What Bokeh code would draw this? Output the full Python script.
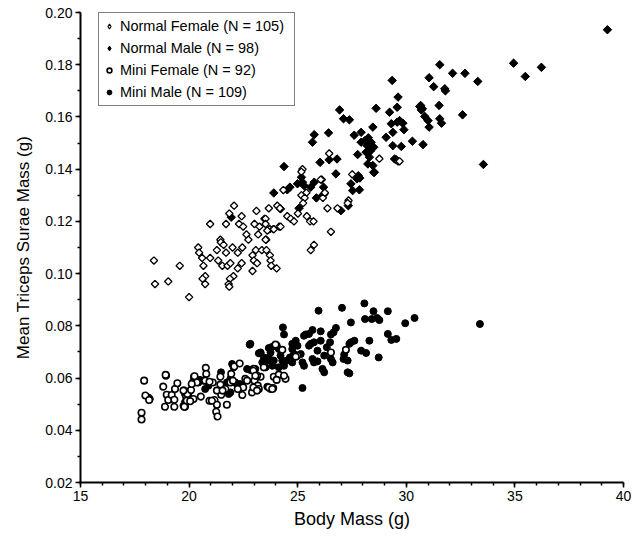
from bokeh.plotting import figure
from bokeh.models import Legend, LegendItem, SingleIntervalTicker, NumeralTickFormatter
from bokeh.embed import file_html
from bokeh.resources import INLINE

# ---------------- data ----------------
nf_x = [18.38, 18.43, 19.04, 19.57, 20.00, 20.97, 20.42, 20.46, 20.60, 20.66,
        20.74, 20.62, 20.74, 20.97, 21.28, 21.44, 21.46, 21.59, 21.70, 21.70,
        21.85, 22.07, 21.34, 21.53, 21.77, 21.90, 22.00, 22.24, 22.42, 22.24,
        22.04, 21.88, 21.82, 21.85, 22.42, 22.30, 22.49, 22.64, 22.73, 22.45,
        23.10, 23.01, 23.24, 23.47, 23.18, 23.55, 23.72, 23.88, 24.06, 23.67,
        23.07, 23.35, 23.56, 23.72, 23.75, 23.78, 24.03, 22.92, 22.98, 23.13,
        22.92, 24.15, 26.45, 25.22, 25.17, 26.11, 27.51, 24.34, 25.40, 25.17,
        25.32, 25.25, 26.16, 26.25, 24.18, 25.01, 24.52, 24.68, 24.83, 25.42,
        25.57, 25.73, 24.21, 26.37, 26.83, 27.34, 28.76, 29.62, 26.53, 25.75,
        25.60, 23.52, 23.60, 23.52, 23.90, 27.30, 29.69, 26.06, 23.52]
nf_y = [0.105, 0.096, 0.097, 0.103, 0.091, 0.119, 0.110, 0.108, 0.106, 0.103,
        0.099, 0.098, 0.096, 0.106, 0.109, 0.113, 0.112, 0.111, 0.108, 0.119,
        0.123, 0.126, 0.105, 0.103, 0.103, 0.104, 0.110, 0.108, 0.104, 0.102,
        0.099, 0.098, 0.096, 0.095, 0.122, 0.119, 0.118, 0.115, 0.113, 0.110,
        0.124, 0.119, 0.118, 0.121, 0.115, 0.113, 0.117, 0.117, 0.126, 0.125,
        0.109, 0.109, 0.109, 0.107, 0.105, 0.103, 0.102, 0.107, 0.105, 0.104,
        0.101, 0.118, 0.146, 0.140, 0.139, 0.136, 0.138, 0.132, 0.131, 0.130,
        0.129, 0.127, 0.129, 0.131, 0.125, 0.123, 0.122, 0.121, 0.120, 0.122,
        0.120, 0.120, 0.118, 0.125, 0.125, 0.128, 0.144, 0.143, 0.116, 0.111,
        0.109, 0.121, 0.1165, 0.113, 0.117, 0.127, 0.143, 0.136, 0.119]

nm_x = [39.26, 31.54, 32.13, 32.70, 33.29, 34.94, 35.48, 36.22, 29.35, 31.05,
        31.26, 31.77, 31.80, 29.62, 26.93, 27.11, 27.38, 28.61, 29.23, 29.58,
        30.66, 30.74, 31.51, 32.59, 30.85, 31.00, 31.54, 31.62, 31.05, 29.31,
        29.69, 29.89, 28.46, 27.92, 29.38, 25.76, 26.42, 25.68, 28.25, 27.92,
        28.38, 28.50, 29.07, 29.38, 29.77, 30.28, 30.77, 27.76, 28.15, 28.30,
        28.23, 28.46, 29.46, 33.55, 26.03, 26.45, 26.81, 26.76, 24.37, 25.17,
        27.79, 28.50, 29.54, 28.53, 25.22, 24.99, 25.29, 25.76, 25.60, 24.64,
        24.52, 23.90, 26.19, 26.22, 26.14, 25.86, 27.45, 27.53, 27.84, 27.33,
        26.99, 25.06, 24.21, 21.94, 27.73, 27.86, 30.62, 30.69, 29.58, 29.84,
        28.20, 28.35, 28.10, 27.60]
nm_y = [0.1934, 0.1800, 0.1767, 0.1767, 0.1736, 0.1806, 0.1755, 0.1790, 0.1740, 0.1750,
        0.1716, 0.1708, 0.1700, 0.1676, 0.1627, 0.1593, 0.1589, 0.1633, 0.1618, 0.1637,
        0.1644, 0.1631, 0.1644, 0.1608, 0.1602, 0.1586, 0.1593, 0.1576, 0.1561, 0.1574,
        0.1586, 0.1551, 0.1561, 0.1541, 0.1541, 0.1532, 0.1539, 0.1503, 0.1520, 0.1503,
        0.1503, 0.1484, 0.1522, 0.1490, 0.1487, 0.1507, 0.1494, 0.1456, 0.1465, 0.1446,
        0.1420, 0.1414, 0.1439, 0.1418, 0.1426, 0.1436, 0.1439, 0.1382, 0.1410, 0.1369,
        0.1375, 0.1388, 0.1436, 0.1388, 0.1350, 0.1344, 0.1337, 0.1350, 0.1331, 0.1331,
        0.1321, 0.1309, 0.1331, 0.1305, 0.1299, 0.1290, 0.1344, 0.1318, 0.1321, 0.1260,
        0.1241, 0.1250, 0.1248, 0.1216, 0.1363, 0.1366, 0.1640, 0.1627, 0.1580, 0.1576,
        0.1490, 0.1470, 0.1510, 0.1530]

mf_x = [17.81, 17.81, 17.93, 17.99, 18.81, 18.94, 18.97, 19.04, 19.20, 18.89,
        19.32, 19.32, 19.35, 19.46, 19.77, 19.86, 19.81, 19.92, 20.09, 20.20,
        20.23, 20.36, 20.54, 20.77, 20.79, 20.74, 20.94, 21.09, 21.17, 21.28,
        21.25, 21.31, 21.44, 21.48, 21.67, 21.74, 21.90, 21.94, 22.08, 22.33,
        22.49, 22.45, 22.59, 22.90, 22.98, 23.01, 23.16, 23.21, 23.29, 23.87,
        23.90, 24.13, 24.03, 18.92, 19.74, 19.89, 19.78, 20.05, 20.12, 20.25,
        20.94, 21.05, 21.28, 21.44, 21.54, 22.02, 22.24, 22.67, 23.13, 23.44,
        24.99, 27.22, 26.53, 24.91, 23.98, 24.29, 24.03, 24.44, 24.37, 23.67,
        23.83, 18.16, 22.96, 23.05, 22.96, 23.13]
mf_y = [0.0467, 0.0441, 0.0590, 0.0533, 0.0567, 0.0609, 0.0536, 0.0516, 0.0535, 0.0490,
        0.0490, 0.0517, 0.0558, 0.0580, 0.0552, 0.0529, 0.0490, 0.0539, 0.0554, 0.0520,
        0.0605, 0.0583, 0.0529, 0.0639, 0.0616, 0.0590, 0.0513, 0.0583, 0.0516, 0.0498,
        0.0471, 0.0453, 0.0605, 0.0536, 0.0558, 0.0498, 0.0583, 0.0616, 0.0644, 0.0656,
        0.0564, 0.0535, 0.0597, 0.0545, 0.0635, 0.0590, 0.0571, 0.0558, 0.0605, 0.0562,
        0.0605, 0.0613, 0.0724, 0.0612, 0.0552, 0.0513, 0.0490, 0.0511, 0.0577, 0.0607,
        0.0586, 0.0513, 0.0552, 0.0575, 0.0552, 0.0590, 0.0558, 0.0590, 0.0609, 0.0641,
        0.0686, 0.0708, 0.0698, 0.0682, 0.0728, 0.0708, 0.0593, 0.0597, 0.0609, 0.0564,
        0.0558, 0.0516, 0.0628, 0.0609, 0.0564, 0.0552]

mm_x = [25.96, 27.04, 28.07, 28.49, 29.15, 28.41, 28.66, 28.76, 28.10, 27.45,
        30.38, 29.95, 33.39, 24.32, 24.37, 25.68, 25.37, 25.29, 25.52, 26.06,
        26.76, 26.65, 26.53, 26.06, 25.75, 25.60, 25.52, 24.91, 24.75, 24.99,
        26.49, 26.34, 27.45, 27.38, 27.61, 28.30, 29.15, 29.31, 29.54, 27.92,
        28.15, 28.73, 27.14, 27.11, 27.30, 27.30, 27.38, 26.14, 26.22, 26.53,
        26.61, 25.68, 25.75, 25.91, 25.14, 25.22, 25.29, 24.75, 24.83, 24.64,
        24.52, 24.75, 24.21, 24.29, 24.37, 24.13, 23.75, 23.67, 23.60, 23.90,
        23.83, 23.29, 23.44, 23.37, 23.52, 22.82, 25.22, 22.79, 23.67, 23.83,
        24.13, 23.29, 21.98, 22.05, 22.67, 22.82, 21.47, 21.74, 21.90, 22.13,
        20.89, 20.74, 20.66, 20.43, 20.51, 20.05, 19.81, 19.97, 19.81, 19.74,
        21.82, 21.90, 22.33, 22.44, 23.60, 23.75, 23.05, 18.19, 25.91, 26.22,
        23.21, 18.12, 20.20, 20.36, 22.21]
mm_y = [0.0858, 0.0869, 0.0886, 0.0856, 0.0856, 0.0826, 0.0830, 0.0822, 0.0826, 0.0813,
        0.0830, 0.0810, 0.0807, 0.0794, 0.0767, 0.0784, 0.0767, 0.0762, 0.0769, 0.0779,
        0.0792, 0.0775, 0.0767, 0.0743, 0.0737, 0.0731, 0.0724, 0.0743, 0.0731, 0.0724,
        0.0737, 0.0718, 0.0737, 0.0731, 0.0743, 0.0743, 0.0769, 0.0746, 0.0750, 0.0705,
        0.0696, 0.0679, 0.0690, 0.0673, 0.0667, 0.0622, 0.0618, 0.0635, 0.0622, 0.0673,
        0.0660, 0.0673, 0.0660, 0.0664, 0.0692, 0.0660, 0.0647, 0.0711, 0.0692, 0.0679,
        0.0667, 0.0660, 0.0686, 0.0667, 0.0647, 0.0641, 0.0698, 0.0679, 0.0667, 0.0667,
        0.0647, 0.0698, 0.0679, 0.0660, 0.0641, 0.0731, 0.0562, 0.0728, 0.0715, 0.0720,
        0.0711, 0.0696, 0.0654, 0.0641, 0.0635, 0.0631, 0.0622, 0.0583, 0.0597, 0.0583,
        0.0571, 0.0558, 0.0590, 0.0583, 0.0593, 0.0552, 0.0539, 0.0533, 0.0507, 0.0494,
        0.0539, 0.0545, 0.0577, 0.0571, 0.0567, 0.0558, 0.0635, 0.0520, 0.0705, 0.0686,
        0.0695, 0.0526, 0.0590, 0.0593, 0.0575]

legend_labels = ["Normal Female (N = 105)", "Normal Male (N = 98)",
                 "Mini Female (N = 92)", "Mini Male (N = 109)"]

FONT = "Liberation Sans"
ROT = 0.785398  # 45 degrees: squares drawn as diamonds

p = figure(frame_width=543, frame_height=470,
           x_range=(15, 40), y_range=(0.02, 0.20),
           output_backend="svg", toolbar_location=None,
           min_border_left=80, min_border_right=13,
           min_border_top=12, min_border_bottom=10)
p.outline_line_color = None
p.xgrid.visible = False
p.ygrid.visible = False
p.background_fill_color = "white"

# narrow diamonds underneath (they supply the legend symbols, since the
# legend draws markers without rotation); the rotated squares cover them
lg_nm = p.scatter(nm_x, nm_y, marker="diamond", size=7, fill_color="black",
                  line_color="black", line_width=1)
lg_nf = p.scatter(nf_x, nf_y, marker="diamond", size=6.5, fill_color="white",
                  line_color="black", line_width=1.1)

# glyphs: males first so that open female markers sit on top
r_nm = p.scatter(nm_x, nm_y, marker="square", angle=ROT, size=6,
                 fill_color="black", line_color="black", line_width=1)
r_mm = p.scatter(mm_x, mm_y, marker="circle", size=7,
                 fill_color="black", line_color="black", line_width=1)
r_nf = p.scatter(nf_x, nf_y, marker="square", angle=ROT, size=5.2,
                 fill_color="white", line_color="black", line_width=1.3)
r_mf = p.scatter(mf_x, mf_y, marker="circle", size=6.5,
                 fill_color="white", line_color="black", line_width=1.6)

# axes
for ax in (p.xaxis[0], p.yaxis[0]):
    ax.axis_line_color = "black"
    ax.axis_line_width = 2
    ax.major_tick_line_color = "black"
    ax.major_tick_line_width = 1.5
    ax.minor_tick_line_color = "black"
    ax.minor_tick_line_width = 1.5
    ax.major_tick_in = 0
    ax.major_tick_out = 5
    ax.minor_tick_in = 0
    ax.minor_tick_out = 3
    ax.major_label_text_font = FONT
    ax.major_label_text_font_size = "14px"
    ax.major_label_text_color = "black"
    ax.axis_label_text_font = FONT
    ax.axis_label_text_font_style = "normal"
    ax.axis_label_text_color = "black"

p.xaxis[0].ticker = SingleIntervalTicker(interval=5, num_minor_ticks=5)
p.yaxis[0].ticker = SingleIntervalTicker(interval=0.02, num_minor_ticks=2)
p.yaxis[0].formatter = NumeralTickFormatter(format="0.00")
p.xaxis[0].axis_label = "Body Mass (g)"
p.yaxis[0].axis_label = "Mean Triceps Surae Mass (g)"
p.xaxis[0].axis_label_text_font_size = "18px"
p.yaxis[0].axis_label_text_font_size = "17px"
p.xaxis[0].major_label_standoff = 3
p.yaxis[0].major_label_standoff = 3
p.xaxis[0].axis_label_standoff = 5
p.yaxis[0].axis_label_standoff = 9

legend = Legend(items=[
    LegendItem(label=legend_labels[0], renderers=[lg_nf]),
    LegendItem(label=legend_labels[1], renderers=[lg_nm]),
    LegendItem(label=legend_labels[2], renderers=[r_mf]),
    LegendItem(label=legend_labels[3], renderers=[r_mm]),
], location=(18, 376))
legend.border_line_color = "black"
legend.border_line_width = 1
legend.background_fill_color = "white"
legend.background_fill_alpha = 1
legend.padding = 4
legend.spacing = 4
legend.margin = 0
legend.glyph_width = 12
legend.glyph_height = 18
legend.label_height = 18
legend.label_width = 170
legend.label_standoff = 5
legend.label_text_font = FONT
legend.label_text_font_size = "14.5px"
legend.label_text_color = "black"
p.add_layout(legend)

open("out.html", "w").write(file_html(p, INLINE))
